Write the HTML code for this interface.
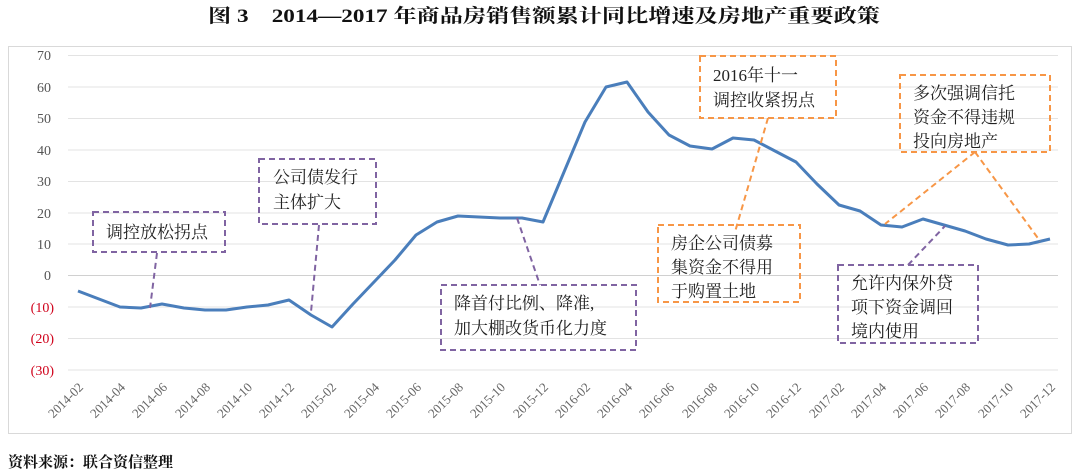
<!DOCTYPE html>
<html><head><meta charset="utf-8"><style>
body{margin:0;background:#fff;width:1080px;height:475px;overflow:hidden}
svg{display:block}
.t{font-family:"Liberation Serif","Noto Serif CJK SC",serif}
</style></head><body>
<svg width="1080" height="475" viewBox="0 0 1080 475" xmlns="http://www.w3.org/2000/svg" class="t">
<text x="544" y="22" text-anchor="middle" font-size="19" font-weight="bold" fill="#111" textLength="672" lengthAdjust="spacingAndGlyphs">图 3　2014—2017 年商品房销售额累计同比增速及房地产重要政策</text>
<rect x="8.5" y="46.5" width="1063" height="387" fill="none" stroke="#d9d9d9"/>
<g stroke="#e3e3e3" stroke-width="1">
<line x1="68" x2="1058" y1="55.5" y2="55.5"/><line x1="68" x2="1058" y1="87" y2="87"/>
<line x1="68" x2="1058" y1="118.5" y2="118.5"/><line x1="68" x2="1058" y1="150" y2="150"/>
<line x1="68" x2="1058" y1="181.5" y2="181.5"/><line x1="68" x2="1058" y1="213" y2="213"/>
<line x1="68" x2="1058" y1="244" y2="244"/><line x1="68" x2="1058" y1="307" y2="307"/>
<line x1="68" x2="1058" y1="338.5" y2="338.5"/><line x1="68" x2="1058" y1="370" y2="370"/>
</g>
<line x1="68" x2="1058" y1="275.5" y2="275.5" stroke="#d0d0d0"/>
<g font-size="14" fill="#555" text-anchor="end">
<text x="51" y="60">70</text><text x="51" y="92">60</text><text x="51" y="123">50</text><text x="51" y="155">40</text><text x="51" y="186">30</text><text x="51" y="218">20</text><text x="51" y="249">10</text><text x="51" y="280">0</text>
</g>
<g font-size="14" fill="#d0021b" text-anchor="end">
<text x="54" y="312">(10)</text><text x="54" y="343">(20)</text><text x="54" y="375">(30)</text>
</g>
<g font-size="13" fill="#666" text-anchor="end">
<text transform="translate(84,388) rotate(-45)">2014-02</text>
<text transform="translate(126,388) rotate(-45)">2014-04</text>
<text transform="translate(168,388) rotate(-45)">2014-06</text>
<text transform="translate(211,388) rotate(-45)">2014-08</text>
<text transform="translate(253,388) rotate(-45)">2014-10</text>
<text transform="translate(295,388) rotate(-45)">2014-12</text>
<text transform="translate(337,388) rotate(-45)">2015-02</text>
<text transform="translate(380,388) rotate(-45)">2015-04</text>
<text transform="translate(422,388) rotate(-45)">2015-06</text>
<text transform="translate(464,388) rotate(-45)">2015-08</text>
<text transform="translate(506,388) rotate(-45)">2015-10</text>
<text transform="translate(549,388) rotate(-45)">2015-12</text>
<text transform="translate(591,388) rotate(-45)">2016-02</text>
<text transform="translate(633,388) rotate(-45)">2016-04</text>
<text transform="translate(675,388) rotate(-45)">2016-06</text>
<text transform="translate(718,388) rotate(-45)">2016-08</text>
<text transform="translate(760,388) rotate(-45)">2016-10</text>
<text transform="translate(802,388) rotate(-45)">2016-12</text>
<text transform="translate(845,388) rotate(-45)">2017-02</text>
<text transform="translate(887,388) rotate(-45)">2017-04</text>
<text transform="translate(929,388) rotate(-45)">2017-06</text>
<text transform="translate(971,388) rotate(-45)">2017-08</text>
<text transform="translate(1014,388) rotate(-45)">2017-10</text>
<text transform="translate(1056,388) rotate(-45)">2017-12</text>
</g>
<polyline fill="none" stroke="#4a7ebb" stroke-width="3" stroke-linejoin="round" points="78,291 99,299 120,307 141,308 162,304 184,308 205,310 226,310 247,307 268,305 289,300 311,315 332,327 353,304 374,282 395,260 416,235 437,222 458,216 479,217 500,218 522,218 543,222 564,172 585,122 606,87 627,82 648,112 669,135 690,146 712,149 733,138 754,140 775,151 796,162 817,184 839,205 860,211 881,225 902,227 923,219 944,225 965,231 986,239 1008,245 1029,244 1050,239"/>
<g fill="none" stroke="#8064a2" stroke-width="2" stroke-dasharray="6,4">
<rect x="93" y="212" width="132" height="40"/>
<line x1="157" y1="253" x2="150" y2="308"/>
<rect x="259" y="159" width="117" height="65"/>
<line x1="319" y1="225" x2="311" y2="312"/>
<rect x="441" y="285" width="195" height="65"/>
<line x1="517" y1="218" x2="540" y2="285"/>
<rect x="838" y="265" width="140" height="78"/>
<line x1="908" y1="265" x2="945" y2="226"/>
</g>
<g fill="none" stroke="#f79646" stroke-width="2" stroke-dasharray="6,4">
<rect x="700" y="56" width="136" height="62"/>
<line x1="768" y1="118" x2="735" y2="232"/>
<rect x="658" y="225" width="142" height="77"/>
<rect x="900" y="75" width="150" height="77"/>
<line x1="975" y1="152" x2="885" y2="224"/>
<line x1="975" y1="152" x2="1040" y2="241"/>
</g>
<g font-size="17" fill="#222">
<text x="106" y="238">调控放松拐点</text>
<text x="273" y="183">公司债发行</text><text x="273" y="208">主体扩大</text>
<text x="454" y="309">降首付比例、降准,</text><text x="454" y="334">加大棚改货币化力度</text>
<text x="713" y="81">2016年十一</text><text x="713" y="106">调控收紧拐点</text>
<text x="671" y="249">房企公司债募</text><text x="671" y="273">集资金不得用</text><text x="671" y="297">于购置土地</text>
<text x="913" y="99">多次强调信托</text><text x="913" y="123">资金不得违规</text><text x="913" y="147">投向房地产</text>
<text x="851" y="289">允许内保外贷</text><text x="851" y="313">项下资金调回</text><text x="851" y="337">境内使用</text>
</g>
<text x="8" y="467" font-size="15" font-weight="bold" fill="#111">资料来源：联合资信整理</text>
</svg>
</body></html>
